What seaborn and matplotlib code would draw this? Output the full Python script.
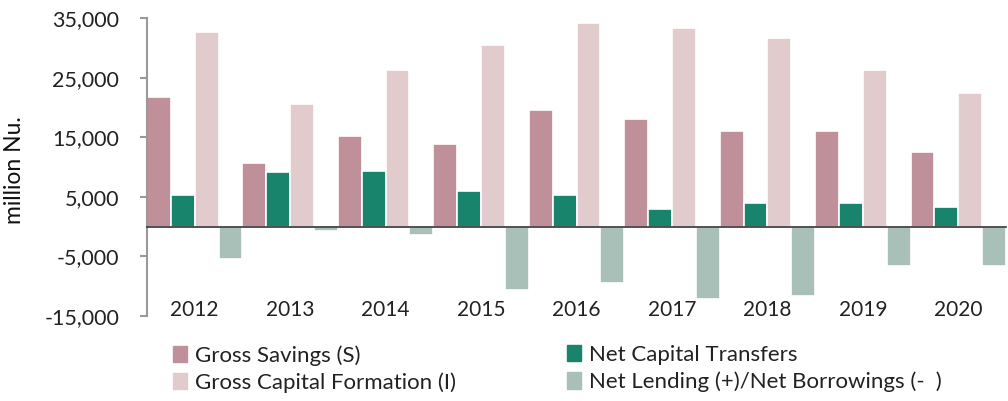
import numpy as np
import pandas as pd
import matplotlib
matplotlib.use("Agg")
import matplotlib.pyplot as plt
import matplotlib.patches as mpatches
import seaborn as sns

# values (million Nu.)
years = ["2012", "2013", "2014", "2015", "2016", "2017", "2018", "2019", "2020"]
gross_savings = [21800, 10700, 15200, 13900, 19600, 18100, 16100, 16100, 12500]
net_cap_transfers = [5300, 9200, 9400, 6000, 5300, 3000, 4000, 4000, 3300]
gross_cap_formation = [32700, 20600, 26300, 30500, 34200, 33300, 31700, 26300, 22400]
net_lending = [-5500, -800, -1400, -10600, -9400, -12200, -11600, -6600, -6600]

series_names = ["Gross Savings (S)", "Net Capital Transfers",
                "Gross Capital Formation (I)", "Net Lending (+)/Net Borrowings (-\u2002)"]
colors = ["#c0909a", "#18846c", "#e1cbcd", "#a9c0b8"]
y_ticks = [-15000, -5000, 5000, 15000, 25000, 35000]

df = pd.DataFrame({
    "year": years * 4,
    "series": np.repeat(series_names, len(years)),
    "value": gross_savings + net_cap_transfers + gross_cap_formation + net_lending,
})

sns.set_style("white")
plt.rcParams["font.family"] = ["Lato", "DejaVu Sans"]

fig = plt.figure(figsize=(10.08, 4.01), dpi=100)
ax = fig.add_axes([147 / 1008, 1 - 316 / 401, (1006 - 147) / 1008, (316 - 18) / 401])

sns.barplot(data=df, x="year", y="value", hue="series", hue_order=series_names,
            palette=colors, width=1.0, edgecolor="white", linewidth=1.2,
            saturation=1, legend=False, ax=ax)

ax.set_xlim(-0.5, len(years) - 0.5)
ax.set_ylim(-15000, 35000)
ax.set_yticks(y_ticks)
ax.set_yticklabels([f"{v:,}" for v in y_ticks], fontsize=15.5, color="#222222")
ax.set_ylabel("")
ax.set_xlabel("")
fig.text(15 / 1008, 1 - 170 / 401, "million Nu.", rotation=90, fontsize=16.5,
         color="#111111", ha="center", va="center")

# x axis: line at zero with ticks between groups, labels at the bottom
for s in ["top", "right"]:
    ax.spines[s].set_visible(False)
ax.spines["bottom"].set_position(("data", 0))
ax.spines["bottom"].set_color("#333333")
ax.spines["bottom"].set_linewidth(1.2)
ax.spines["left"].set_color("#999999")
ax.spines["left"].set_linewidth(1.5)
ax.set_xticks(np.arange(len(years) + 1) - 0.5)
ax.set_xticklabels([])
ax.set_xticks(np.arange(len(years)), minor=True)
ax.set_xticklabels(years, minor=True, fontsize=15, color="#222222")
ax.tick_params(axis="x", which="major", length=6, width=1.2, color="#333333", direction="out")
ax.tick_params(axis="x", which="minor", length=0, pad=53)
ax.tick_params(axis="y", length=5, width=1.5, color="#999999", left=True, pad=15)

handles = [mpatches.Patch(color=c, label=n) for c, n in zip(colors, series_names)]
leg_kw = dict(frameon=False, fontsize=16, handlelength=0.65, handleheight=0.75,
              handletextpad=0.35, labelspacing=0.3, borderaxespad=0, borderpad=0,
              labelcolor="#222222")
fig.legend(handles=[handles[0], handles[2]], loc="upper left",
           bbox_to_anchor=(173 / 1008, 1 - 345 / 401), **leg_kw)
fig.legend(handles=[handles[1], handles[3]], loc="upper left",
           bbox_to_anchor=(567 / 1008, 1 - 345 / 401), **leg_kw)

fig.savefig("out.png", dpi=100)
